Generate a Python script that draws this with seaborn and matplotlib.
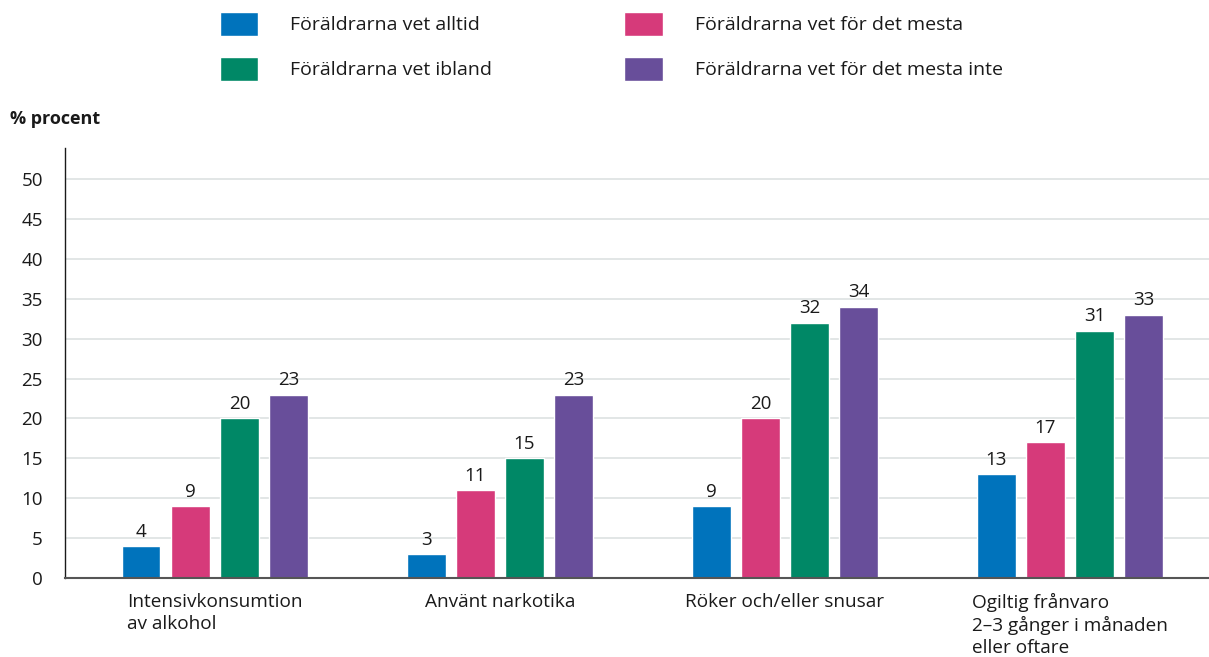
import pandas as pd
import matplotlib.pyplot as plt
import seaborn as sns
from matplotlib.patches import Rectangle

# kategorier och serier
categories = [
    'Intensivkonsumtion\nav alkohol',
    'Använt narkotika',
    'Röker och/eller snusar',
    'Ogiltig frånvaro\n2–3 gånger i månaden\neller oftare',
]
series = [
    'Föräldrarna vet alltid',
    'Föräldrarna vet för det mesta',
    'Föräldrarna vet ibland',
    'Föräldrarna vet för det mesta inte',
]
vet_alltid = [4, 3, 9, 13]
vet_mesta = [9, 11, 20, 17]
vet_ibland = [20, 15, 32, 31]
vet_mesta_inte = [23, 23, 34, 33]
yticks = [0, 5, 10, 15, 20, 25, 30, 35, 40, 45, 50]

colors = ['#0073BC', '#D63A7A', '#008866', '#684E9A']

rows = []
for s, vals in zip(series, [vet_alltid, vet_mesta, vet_ibland, vet_mesta_inte]):
    for c, v in zip(categories, vals):
        rows.append({'Kategori': c, 'Grupp': s, 'Procent': v})
df = pd.DataFrame(rows)

sns.set_theme(style='white')
plt.rcParams['font.family'] = ['Open Sans', 'DejaVu Sans']
plt.rcParams['text.color'] = '#1a1a1a'

fig = plt.figure(figsize=(12.09, 6.57), dpi=100)
ax = fig.add_axes([65 / 1209, 1 - 578 / 657, 1 - 65 / 1209, (578 - 148) / 657])

sns.barplot(data=df, x='Kategori', y='Procent', hue='Grupp', order=categories,
            hue_order=series, palette=colors, width=0.688, gap=0.22,
            saturation=1, legend=False, ax=ax)

for cont in ax.containers:
    ax.bar_label(cont, fmt='%d', padding=4, fontsize=13.5, color='#1a1a1a')

ax.set_ylim(0, 53.9)
ax.set_xlim(-0.526, 3.488)
ax.set_yticks(yticks)
ax.tick_params(axis='y', labelsize=13.5, length=0, pad=16, colors='#1a1a1a')
ax.tick_params(axis='x', labelsize=13.7, length=0, pad=11, colors='#1a1a1a')
for lab in ax.get_xticklabels():
    lab.set_multialignment('left')
    lab.set_linespacing(1.27)
ax.yaxis.grid(True, color='#dde2e2', linewidth=1.2)
ax.set_axisbelow(True)
ax.set_xlabel('')
ax.set_ylabel('')
sns.despine(ax=ax, top=True, right=True)
ax.spines['left'].set_color('#1a1a1a')
ax.spines['left'].set_linewidth(1)
ax.spines['bottom'].set_color('#555555')
ax.spines['bottom'].set_linewidth(1.5)

fig.text(10 / 1209, 1 - 119 / 657, '% procent', fontsize=13, fontweight='bold',
         ha='left', va='center')

handles = [Rectangle((0, 0), 1, 1, facecolor=c) for c in colors]
# ordning kolumnvis: alltid, ibland | mesta, mesta inte
order = [0, 2, 1, 3]
fig.legend([handles[i] for i in order], [series[i] for i in order], ncol=2,
           loc='upper left', bbox_to_anchor=(220 / 1209, 1 - 12 / 657),
           frameon=False, fontsize=14, handlelength=1.96, handleheight=1.5,
           handletextpad=1.65, columnspacing=6.8, labelspacing=1.1,
           borderaxespad=0, borderpad=0)

fig.savefig('out.png', dpi=100)
